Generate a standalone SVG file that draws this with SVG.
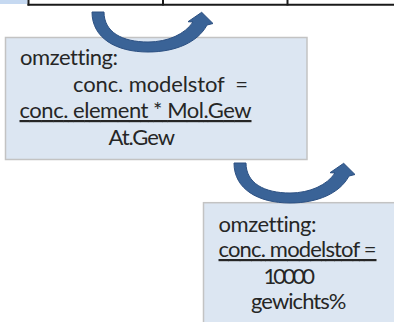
<svg xmlns="http://www.w3.org/2000/svg" width="394" height="322" viewBox="0 0 394 322">
  <style>
    .box { fill: #dce6f2; stroke: #c3c3c3; stroke-width: 1.5; }
    .t { font-family: Lato, "Liberation Sans", Arial, sans-serif; font-size: 22px; fill: #262626; white-space: pre; font-variant-ligatures: none; }
    .u { text-decoration: underline; }
    .arrow { fill: #3a6397; stroke: #2c5082; stroke-width: 1; stroke-linejoin: round; }
    .grid { stroke: #1a1a1a; stroke-width: 2; fill: none; }
  </style>
  <defs>
    <path id="curvedArrow" d="M92,12 L104,12 C104,32 122,42 148,42 C168,42 185,34 193,22 L188,21.7 L201.7,12.3 L213,23.5 L207,25 C198,42 176,52 148,52 C116,52 92,38 92,12 Z"/>
  </defs>
  <rect width="394" height="322" fill="#ffffff"/>
  <g id="table-row">
    <rect x="0" y="0" width="27.5" height="4" fill="#c6d9f1"/>
    <line class="grid" x1="27.5" y1="4.8" x2="394" y2="4.8"/>
    <line class="grid" x1="28.5" y1="0" x2="28.5" y2="5.5"/>
    <line class="grid" x1="163" y1="0" x2="163" y2="5.5"/>
    <line class="grid" x1="287.5" y1="0" x2="287.5" y2="5.5"/>
  </g>
  <g id="box1">
    <rect class="box" x="5.5" y="37.5" width="301.5" height="122"/>
    <text class="t" x="20" y="65" textLength="98" lengthAdjust="spacing">omzetting:</text>
    <text class="t" x="73" y="92" textLength="175" lengthAdjust="spacing">conc. modelstof  =</text>
    <text class="t u" x="19.5" y="118" textLength="232" lengthAdjust="spacing">conc. element * Mol.Gew</text>
    <text class="t" x="108.5" y="145" textLength="66.5" lengthAdjust="spacing">At.Gew</text>
  </g>
  <g id="box2">
    <rect class="box" x="203.5" y="202.7" width="192" height="122"/>
    <text class="t" x="218.5" y="232" textLength="98" lengthAdjust="spacing">omzetting:</text>
    <text class="t u" x="218.5" y="257" textLength="158" lengthAdjust="spacing">conc. modelstof =</text>
    <text class="t" x="263.5" y="284" textLength="51.5" lengthAdjust="spacing">10000</text>
    <text class="t" x="251" y="309" textLength="95.5" lengthAdjust="spacing">gewichts%</text>
  </g>
  <g id="connectors">
    <use class="arrow" href="#curvedArrow"/>
    <use class="arrow" href="#curvedArrow" transform="translate(142,151)"/>
  </g>
</svg>
